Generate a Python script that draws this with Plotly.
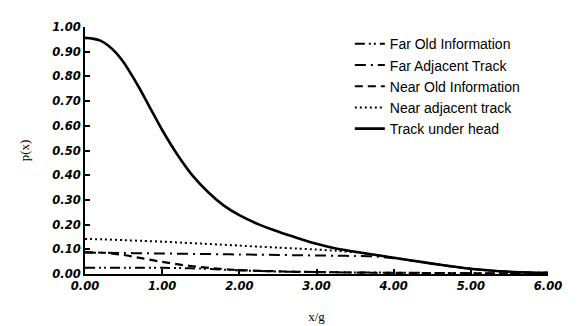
import plotly.graph_objects as go

x_vals = [0.0, 0.25, 0.5, 0.75, 1.0, 1.25, 1.5, 1.75, 2.0, 2.25, 2.5, 2.75, 3.0,
          3.25, 3.5, 3.75, 4.0, 4.25, 4.5, 4.75, 5.0, 5.25, 5.5, 5.75, 6.0]

head_x = [0.0, 0.1, 0.2, 0.3, 0.4, 0.5, 0.6, 0.7, 0.8, 0.9, 1.0, 1.2, 1.4, 1.6, 1.8, 2.0,
          2.25, 2.5, 2.75, 3.0, 3.25, 3.5, 3.75, 4.0, 4.25, 4.5, 4.75, 5.0, 5.25, 5.5, 5.75, 6.0]
track_under_head = [0.956, 0.953, 0.945, 0.925, 0.896, 0.857, 0.808, 0.755, 0.698, 0.640, 0.583,
                    0.482, 0.396, 0.330, 0.277, 0.238, 0.201, 0.172, 0.146, 0.122, 0.103, 0.090,
                    0.078, 0.066, 0.054, 0.042, 0.031, 0.021, 0.014, 0.009, 0.006, 0.005]
near_adjacent = [0.142, 0.140, 0.137, 0.134, 0.131, 0.127, 0.123, 0.119, 0.115, 0.111,
                 0.107, 0.103, 0.099, 0.094, 0.088, 0.078, 0.066, 0.054, 0.042, 0.031,
                 0.021, 0.014, 0.009, 0.006, 0.005]
near_old = [0.088, 0.086, 0.077, 0.063, 0.049, 0.037, 0.028, 0.021, 0.016, 0.013,
            0.011, 0.009, 0.008, 0.007, 0.006, 0.005, 0.005, 0.004, 0.004, 0.003,
            0.003, 0.002, 0.002, 0.001, 0.001]
far_adjacent = [0.087, 0.086, 0.085, 0.084, 0.083, 0.082, 0.081, 0.080, 0.079, 0.078,
                0.077, 0.076, 0.075, 0.074, 0.073, 0.071, 0.064, 0.054, 0.042, 0.031,
                0.021, 0.014, 0.009, 0.006, 0.005]
far_old = [0.025, 0.025, 0.025, 0.025, 0.025, 0.024, 0.022, 0.018, 0.015, 0.012,
           0.010, 0.009, 0.008, 0.007, 0.006, 0.006, 0.005, 0.005, 0.004, 0.004,
           0.003, 0.003, 0.002, 0.002, 0.002]

tick_vals_x = [0, 1, 2, 3, 4, 5, 6]
tick_text_x = ["0.00", "1.00", "2.00", "3.00", "4.00", "5.00", "6.00"]
tick_vals_y = [0.0, 0.1, 0.2, 0.3, 0.4, 0.5, 0.6, 0.7, 0.8, 0.9, 1.0]
tick_text_y = ["0.00", "0.10", "0.20", "0.30", "0.40", "0.50", "0.60", "0.70", "0.80", "0.90", "1.00"]

series = [
    ("Far Old Information", x_vals, far_old, "10px,4px,2px,3px,2px,4px", 2),
    ("Far Adjacent Track", x_vals, far_adjacent, "11px,5px,2px,5px", 2),
    ("Near Old Information", x_vals, near_old, "8px,5px", 2.2),
    ("Near adjacent track", x_vals, near_adjacent, "2px,3px", 2),
    ("Track under head", head_x, track_under_head, "solid", 2.6),
]

fig = go.Figure()
for name, xs, ys, dash, w in series:
    fig.add_trace(go.Scatter(x=xs, y=ys, mode="lines", name=name,
                             line=dict(color="black", width=w, dash=dash, shape="spline", smoothing=0.8)))

tickfont = dict(family="DejaVu Sans", size=11.5, color="black", weight="bold", style="italic")

fig.update_layout(
    width=579, height=326,
    paper_bgcolor="white", plot_bgcolor="white",
    margin=dict(l=77, r=39, t=19, b=58),
    showlegend=True,
    legend=dict(x=0.572, y=0.995, xanchor="left", yanchor="top",
                bgcolor="rgba(0,0,0,0)", font=dict(family="Liberation Sans", size=14, color="black"),
                itemwidth=30, tracegroupgap=0),
    xaxis=dict(range=[0, 6], tickvals=tick_vals_x, ticktext=tick_text_x, showgrid=False, zeroline=False,
               showline=True, linecolor="black", linewidth=2, ticks="inside", ticklen=5, tickwidth=2,
               tickcolor="black", tickfont=tickfont,
               title=dict(text="x/g", font=dict(family="Liberation Serif", size=13, color="black"), standoff=20)),
    yaxis=dict(range=[0, 1.0], tickvals=tick_vals_y, ticktext=tick_text_y, showgrid=False, zeroline=False,
               showline=True, linecolor="black", linewidth=2, ticks="inside", ticklen=5, tickwidth=2,
               tickcolor="black", tickfont=tickfont,
               title=dict(text="p(x)", font=dict(family="Liberation Serif", size=13, color="black"), standoff=20)),
)

fig.write_html("out.html")
